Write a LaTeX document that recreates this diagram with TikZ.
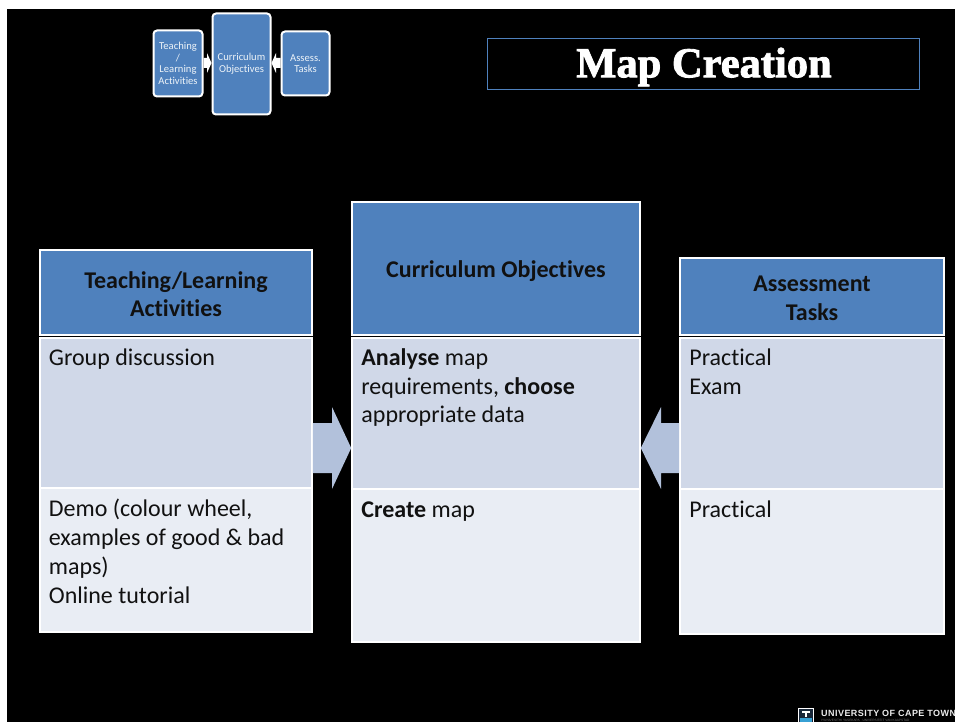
\documentclass[tikz,border=0pt]{standalone}
\usepackage{fontspec}
\setsansfont{Carlito}[Ligatures=NoCommon]
\newfontfamily\logofont{Liberation Sans}
\newfontfamily\titlefont{Liberation Serif}[FakeBold=2]
\usetikzlibrary{calc}
\definecolor{hdr}{HTML}{4F81BD}
\definecolor{rowa}{HTML}{D0D8E8}
\definecolor{rowb}{HTML}{E9EDF4}
\definecolor{arr}{HTML}{B2C1DB}
\definecolor{ink}{HTML}{111111}
\tikzset{
 x=1pt,y=-1pt,
 cellbox/.style={draw=white,line width=1.6pt,inner sep=0pt,rectangle},
 hdrbox/.style={cellbox,fill=hdr},
 hdrtext/.style={inner sep=0pt,font=\fontsize{24}{28.6}\selectfont\sffamily\bfseries,text=ink,align=center},
 abox/.style={cellbox,fill=rowa},
 bbox/.style={cellbox,fill=rowb},
 celltext/.style={anchor=north west,inner sep=0pt,align=left,text=ink,font=\fontsize{24}{28.8}\selectfont\sffamily},
 bigarrow/.style={fill=arr,draw=none},
 minibox/.style={draw=white,line width=2pt,fill=hdr,rounded corners=3.5pt,inner sep=0pt,text=white!90!hdr,align=center,font=\fontsize{10.6}{11.7}\selectfont\sffamily},
 miniarrow/.style={fill=white,draw=none},
}
\begin{document}
\begin{tikzpicture}
\useasboundingbox (0,0) rectangle (955,722);
\fill[white] (0,0) rectangle (955,722);
\fill[black] (7,9) rectangle (955,722);
% title
\node[draw=hdr,line width=0.9pt,minimum width=432pt,minimum height=51pt,inner sep=0pt] (titlebox) at (703.5,64) {};
\node[text=white,inner sep=0pt,font=\fontsize{42.5}{42.5}\selectfont\titlefont\bfseries] (titletext) at (704,67) {Map Creation};
% mini diagram
\node[minibox,minimum width=49pt,minimum height=66pt] (mA) at (178,63.5) {Teaching\\/\\Learning\\Activities};
\node[minibox,minimum width=58pt,minimum height=101pt] (mB) at (241.5,64) {Curriculum\\Objectives};
\node[minibox,minimum width=48pt,minimum height=64pt] (mC) at (305.5,63.5) {Assess.\\Tasks};
\fill[miniarrow] (mA.east|-0,58) -- (207,58) -- (207,53) -- (mB.west|-0,63) -- (207,73) -- (207,68) -- (mA.east|-0,68) -- cycle;
\fill[miniarrow] (mC.west|-0,58) -- (276,58) -- (276,53) -- (mB.east|-0,63) -- (276,73) -- (276,68) -- (mC.west|-0,68) -- cycle;
% tables: left
\node[hdrbox,minimum width=272pt,minimum height=85pt] (h1) at (176,292.5) {};
\node[abox,minimum width=272pt,minimum height=150pt] (a1) at (176,413) {};
\node[bbox,minimum width=272pt,minimum height=144pt] (b1) at (176,560) {};
% middle
\node[hdrbox,minimum width=288pt,minimum height=133pt] (h2) at (496,268.5) {};
\node[abox,minimum width=288pt,minimum height=151pt] (a2) at (496,413.5) {};
\node[bbox,minimum width=288pt,minimum height=153pt] (b2) at (496,565.5) {};
% right
\node[hdrbox,minimum width=264pt,minimum height=77pt] (h3) at (812,296.5) {};
\node[abox,minimum width=264pt,minimum height=151pt] (a3) at (812,413.5) {};
\node[bbox,minimum width=264pt,minimum height=145pt] (b3) at (812,561.5) {};
% header text
\node[hdrtext] (ht1) at ($(h1.center)+(0,1.5)$) {Teaching/Learning\\Activities};
\node[hdrtext] (ht2) at ($(h2.center)+(0,2.5)$) {Curriculum Objectives};
\node[hdrtext] (ht3) at ($(h3.center)+(0,2)$) {Assessment\\Tasks};
% cell text
\node[celltext] (t1) at ($(a1.north west)+(9.5,11.5)$) {Group discussion};
\node[celltext] (t2) at ($(b1.north west)+(9.5,12)$) {Demo (colour wheel,\\examples of good \& bad\\maps)\\Online tutorial};
\node[celltext] (t3) at ($(a2.north west)+(10,11)$) {\textbf{Analyse} map\\requirements, \textbf{choose}\\appropriate data};
\node[celltext] (t4) at ($(b2.north west)+(10,13.5)$) {\textbf{Create} map};
\node[celltext] (t5) at ($(a3.north west)+(10,11.5)$) {Practical\\Exam};
\node[celltext] (t6) at ($(b3.north west)+(10,12.5)$) {Practical};
% big arrows
\fill[bigarrow] (a1.east|-0,423) -- (332,423) -- (332,407) -- (a2.west|-0,448) -- (332,489) -- (332,473) -- (a1.east|-0,473) -- cycle;
\fill[bigarrow] (a3.west|-0,423) -- (661,423) -- (661,407) -- (a2.east|-0,448) -- (661,489) -- (661,473) -- (a3.west|-0,473) -- cycle;
% logo
\node[draw=white,line width=0.8pt,fill=black!70!hdr,minimum width=15pt,minimum height=14pt,inner sep=0pt] (shield) at (806,715) {};
\fill[white] (802,711) rectangle (810,712.5);
\fill[white] (805,711) rectangle (807,717);
\fill[cyan!60!hdr] (800,718) rectangle (812,721.5);
\node[anchor=base west,inner sep=0pt,text=white!92!black,font=\fontsize{9}{9}\selectfont\logofont\bfseries] (uct) at (821,716.5) {\addfontfeature{LetterSpace=5}UNIVERSITY OF CAPE TOWN};
\node[anchor=base west,inner sep=0pt,text=white!45!black,font=\fontsize{3.2}{3.2}\selectfont\logofont] (uct2) at (821,721.5) {IYUNIVESITHI YASEKAPA · UNIVERSITEIT VAN KAAPSTAD};
\end{tikzpicture}
\end{document}
